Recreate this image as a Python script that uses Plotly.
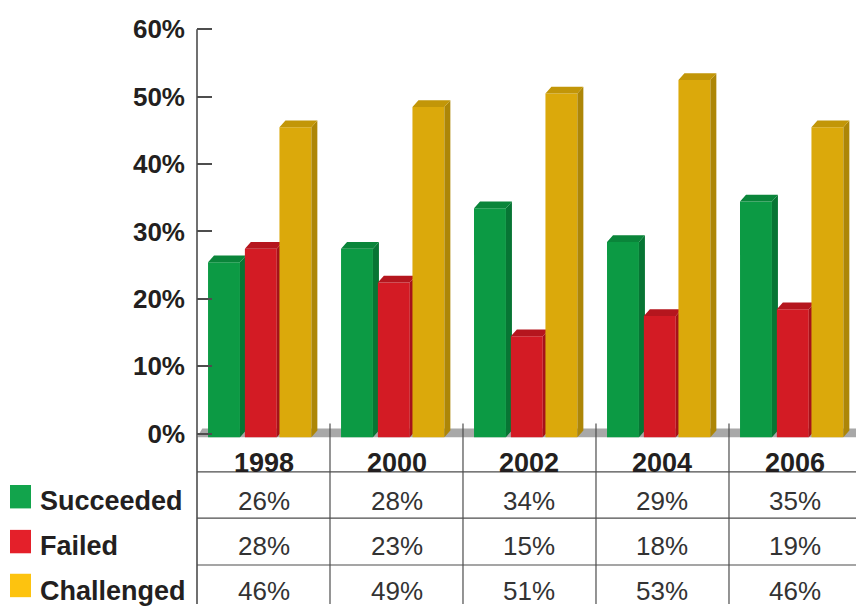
import plotly.graph_objects as go

# ---- data ----
years = ["1998", "2000", "2002", "2004", "2006"]
succeeded = [26, 28, 34, 29, 35]
failed = [28, 23, 15, 18, 19]
challenged = [46, 49, 51, 53, 46]
series_names = ["Succeeded", "Failed", "Challenged"]
y_ticks = [0, 10, 20, 30, 40, 50, 60]

# ---- styles ----
W, H = 856, 610
FONT = "Liberation Sans, Arial, sans-serif"
TXT = "#231f20"
front_cols = ["#0c9a44", "#d31b24", "#dba90b"]
side_cols = ["#077534", "#a5121a", "#ad8607"]
top_cols = ["#0a853a", "#b5161e", "#c29608"]
legend_cols = ["#12a44c", "#e4202a", "#fdc30f"]
offsets = [-0.297, -0.02, 0.24]
BW = 0.24      # bar front width (category units)
DX = 0.045     # 3D depth in x
DY = 1.0       # 3D depth in y (%)
BASE = -0.5
LINE = "#4d4d4d"

def py(p):  # pixel row -> paper y
    return (H - p) / H

fig = go.Figure()
all_series = [succeeded, failed, challenged]
for j, vals in enumerate(all_series):
    fx, fy, sx, sy, tx, ty = [], [], [], [], [], []
    for i, v in enumerate(vals):
        xl = i + offsets[j] - BW / 2
        xr = i + offsets[j] + BW / 2
        top = v - 0.55
        fx += [xl, xr, xr, xl, xl, None]
        fy += [BASE, BASE, top, top, BASE, None]
        sx += [xr, xr + DX, xr + DX, xr, xr, None]
        sy += [BASE, BASE + DY, top + DY, top, BASE, None]
        tx += [xl, xr, xr + DX, xl + DX, xl, None]
        ty += [top, top, top + DY, top + DY, top, None]
    for xs, ys, c in [(fx, fy, front_cols[j]), (sx, sy, side_cols[j]), (tx, ty, top_cols[j])]:
        fig.add_trace(go.Scatter(x=xs, y=ys, mode="lines", fill="toself",
                                 fillcolor=c, line=dict(width=0, color=c),
                                 hoverinfo="skip", showlegend=False,
                                 name=series_names[j]))

shapes = []
# floor
shapes.append(dict(type="path", xref="x", yref="y",
                   path="M -0.5,-0.5 L 4.6,-0.5 L 4.6,0.8 L -0.46,0.8 Z",
                   fillcolor="#a8a8a8", line=dict(width=0), layer="below"))
# y axis line continuing through table
shapes.append(dict(type="line", xref="paper", yref="paper",
                   x0=197 / W, x1=197 / W, y0=0, y1=py(20.7),
                   line=dict(color=LINE, width=1.6)))
# category separators
for k in range(1, len(years)):
    shapes.append(dict(type="line", xref="x", yref="paper",
                       x0=k - 0.5, x1=k - 0.5, y0=0, y1=py(425),
                       line=dict(color=LINE, width=1.2)))
# table horizontal lines
for p in [474.5, 522, 570]:
    shapes.append(dict(type="line", xref="paper", yref="paper",
                       x0=197 / W, x1=1, y0=py(p), y1=py(p),
                       line=dict(color=LINE, width=1.2)))
# legend squares
sq_rows = [(488, 512), (534, 558), (579, 603)]
for j, (a, b) in enumerate(sq_rows):
    shapes.append(dict(type="rect", xref="paper", yref="paper",
                       x0=10 / W, x1=31 / W, y0=py(b), y1=py(a),
                       fillcolor=legend_cols[j], line=dict(width=0)))

annotations = []
for i, yr in enumerate(years):
    annotations.append(dict(x=i, xref="x", y=py(465), yref="paper", text=yr,
                            showarrow=False, xanchor="center", yanchor="middle",
                            font=dict(family=FONT, size=27, color=TXT, weight="bold")))
row_y = [504, 551, 597]
for j, vals in enumerate(all_series):
    for i, v in enumerate(vals):
        annotations.append(dict(x=i, xref="x", y=py(row_y[j]), yref="paper",
                                text=f"{v}%", showarrow=False,
                                xanchor="center", yanchor="middle",
                                font=dict(family=FONT, size=26, color="#333333")))
    annotations.append(dict(x=38 / W, xref="paper", y=py(row_y[j]), yref="paper",
                            text=series_names[j], showarrow=False,
                            xanchor="left", yanchor="middle",
                            font=dict(family=FONT, size=27, color=TXT, weight="bold")))

fig.update_layout(
    width=W, height=H, margin=dict(l=0, r=0, t=0, b=0),
    paper_bgcolor="white", plot_bgcolor="white",
    showlegend=False, shapes=shapes, annotations=annotations,
    xaxis=dict(domain=[197 / W, 1], range=[-0.5, 4.455], showgrid=False,
               zeroline=False, showline=False, showticklabels=False, ticks=""),
    yaxis=dict(domain=[py(445), py(15)], range=[-1.374, 60.82], showgrid=False,
               zeroline=False, showline=False, tickvals=y_ticks,
               ticktext=[f"{v}%" for v in y_ticks], ticks="inside", ticklen=15,
               tickwidth=2, tickcolor=LINE, ticklabelstandoff=11,
               tickfont=dict(family=FONT, size=26, color=TXT, weight="bold")),
)

fig.write_html("out.html")
